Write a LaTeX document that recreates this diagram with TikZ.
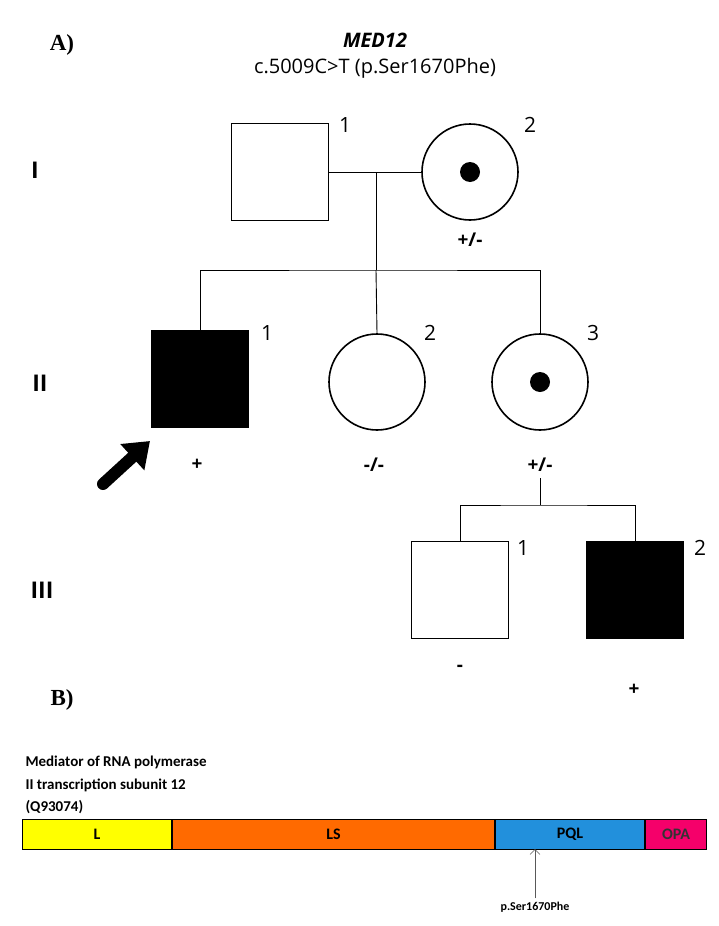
\documentclass[tikz,border=0pt]{standalone}
\usepackage{fontspec}
\setmainfont{Liberation Serif}
\setsansfont{Open Sans}
\newfontfamily\carl{Carlito}
\usetikzlibrary{arrows.meta}
\definecolor{cL}{HTML}{FFFF00}
\definecolor{cLS}{HTML}{FF6A00}
\definecolor{cPQL}{HTML}{2290DC}
\definecolor{cOPA}{HTML}{F5006A}
\begin{document}
\begin{tikzpicture}[x=1pt,y=-1pt,
  sq/.style={draw,line width=1.6pt,minimum size=97pt,inner sep=0pt},
  ci/.style={draw,circle,line width=1.6pt,minimum size=96pt,inner sep=0pt},
  num/.style={font=\sffamily\fontsize{21}{21}\selectfont},
  gt/.style={font=\sffamily\bfseries\fontsize{19}{19}\selectfont},
  gen/.style={font=\sffamily\bfseries\fontsize{23}{23}\selectfont},
  ln/.style={line width=0.9pt},
  txt/.style={font=\carl\bfseries\fontsize{15}{15}\selectfont,anchor=west},
  dom/.style={draw,line width=1pt,font=\carl\bfseries\fontsize{16}{16}\selectfont,minimum height=30pt,inner sep=0pt}]
\useasboundingbox (0,0) rectangle (719,926);
\node[font=\bfseries\fontsize{23}{23}\selectfont] (A) at (62,45) {A)};
\node[font=\sffamily\bfseries\itshape\fontsize{20}{20}\selectfont] (t1) at (375,40) {MED12};
\node[font=\sffamily\fontsize{20}{20}\selectfont] (t2) at (375,68) {c.5009C>T (p.Ser1670Phe)};
\node[gen] (gI) at (35,170) {I};
\node[gen] (gII) at (40,383) {II};
\node[gen] (gIII) at (42,590) {III};
% gen I
\node[sq] (i1) at (280,172) {};
\node[ci] (i2) at (470,172) {};
\fill (i2.center) circle (10);
\node[num] at (345,125) {1};
\node[num] at (530,125) {2};
\node[gt] at (470,240) {+/-};
\draw[ln] (i1.east) -- (i2.west);
\coordinate (m1) at (376,172);
\coordinate (s1) at (376,270);
\draw[ln] (m1) -- (s1);
% gen II
\node[sq,fill=black] (ii1) at (200,379) {};
\node[ci] (ii2) at (377,382) {};
\node[ci] (ii3) at (540,382) {};
\fill (ii3.center) circle (10);
\node[num] at (267,333) {1};
\node[num] at (430,333) {2};
\node[num] at (593,333) {3};
\node[gt] at (197,465) {+};
\node[gt] at (374,465) {-/-};
\node[gt] at (540,465) {+/-};
\draw[ln] (ii1.north) |- (s1) -| (ii3.north);
\draw[ln] (s1) -- (ii2.north);
% gen III
\coordinate (d2) at (540,478);
\coordinate (s2) at (540,505);
\draw[ln] (d2) -- (s2);
\node[sq] (iii1) at (460,590) {};
\node[sq,fill=black] (iii2) at (635,590) {};
\node[num] at (523,548) {1};
\node[num] at (700,548) {2};
\node[gt] at (460,668) {-};
\node[gt] at (634,690) {+};
\draw[ln] (iii1.north) |- (s2) -| (iii2.north);
% arrow
\coordinate (a0) at (103,484);
\coordinate (a1) at (150,441);
\draw[line width=12pt,-{Triangle[length=24pt,width=34pt]},line cap=round] (a0) -- (a1);
% B
\node[font=\bfseries\fontsize{23}{23}\selectfont] (B) at (62,700) {B)};
\node[txt] at (22,762) {Mediator of RNA polymerase};
\node[txt] at (22,785) {II transcription subunit 12};
\node[txt] at (22,807) {(Q93074)};
\node[dom,fill=cL,minimum width=149pt,anchor=west] (dL) at (22,834) {L};
\node[dom,fill=cLS,minimum width=322pt,anchor=west] (dLS) at (dL.east) {LS};
\node[dom,fill=cPQL,minimum width=149pt,anchor=west] (dP) at (dLS.east) {PQL};
\node[dom,fill=cOPA,minimum width=61pt,anchor=west] (dO) at (dP.east) {\color{black!80}OPA};
\node[font=\carl\bfseries\fontsize{12}{12}\selectfont] (mut) at (535,907) {p.Ser1670Phe};
\draw[gray!70!black,line width=0.6pt,-{Straight Barb[length=5pt]}] (mut.north) -- (535,849);
\end{tikzpicture}
\end{document}
